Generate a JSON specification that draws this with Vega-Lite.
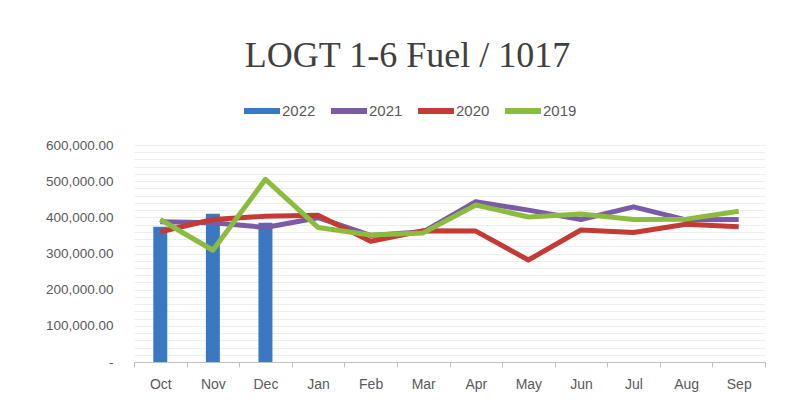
{
  "$schema": "https://vega.github.io/schema/vega-lite/v6.json",
  "width": 631,
  "height": 217,
  "autosize": {"type": "none"},
  "padding": {"left": 134, "top": 145, "right": 20, "bottom": 44},
  "background": "white",
  "title": {
    "text": "LOGT 1-6 Fuel / 1017",
    "font": "Liberation Serif",
    "fontSize": 36,
    "fontWeight": "normal",
    "color": "#404040",
    "anchor": "middle",
    "frame": "group",
    "dx": -42,
    "offset": 18
  },
  "config": {"view": {"stroke": null}, "font": "Liberation Sans"},
  "data": {
    "values": [
      {"m": "Oct", "y": "2022", "v": 374000},
      {"m": "Nov", "y": "2022", "v": 410000},
      {"m": "Dec", "y": "2022", "v": 385000},
      {"m": "Oct", "y": "2021", "v": 388000},
      {"m": "Nov", "y": "2021", "v": 385000},
      {"m": "Dec", "y": "2021", "v": 372000},
      {"m": "Jan", "y": "2021", "v": 399000},
      {"m": "Feb", "y": "2021", "v": 350000},
      {"m": "Mar", "y": "2021", "v": 360000},
      {"m": "Apr", "y": "2021", "v": 443000},
      {"m": "May", "y": "2021", "v": 420000},
      {"m": "Jun", "y": "2021", "v": 394000},
      {"m": "Jul", "y": "2021", "v": 429000},
      {"m": "Aug", "y": "2021", "v": 393000},
      {"m": "Sep", "y": "2021", "v": 394000},
      {"m": "Oct", "y": "2020", "v": 360000},
      {"m": "Nov", "y": "2020", "v": 394000},
      {"m": "Dec", "y": "2020", "v": 403000},
      {"m": "Jan", "y": "2020", "v": 406000},
      {"m": "Feb", "y": "2020", "v": 334000},
      {"m": "Mar", "y": "2020", "v": 363000},
      {"m": "Apr", "y": "2020", "v": 362000},
      {"m": "May", "y": "2020", "v": 282000},
      {"m": "Jun", "y": "2020", "v": 365000},
      {"m": "Jul", "y": "2020", "v": 358000},
      {"m": "Aug", "y": "2020", "v": 381000},
      {"m": "Sep", "y": "2020", "v": 374000},
      {"m": "Oct", "y": "2019", "v": 394000},
      {"m": "Nov", "y": "2019", "v": 309000},
      {"m": "Dec", "y": "2019", "v": 505000},
      {"m": "Jan", "y": "2019", "v": 372000},
      {"m": "Feb", "y": "2019", "v": 351000},
      {"m": "Mar", "y": "2019", "v": 357000},
      {"m": "Apr", "y": "2019", "v": 434000},
      {"m": "May", "y": "2019", "v": 401000},
      {"m": "Jun", "y": "2019", "v": 409000},
      {"m": "Jul", "y": "2019", "v": 394000},
      {"m": "Aug", "y": "2019", "v": 395000},
      {"m": "Sep", "y": "2019", "v": 417000}
    ]
  },
  "encoding": {
    "x": {
      "field": "m",
      "type": "ordinal",
      "sort": ["Oct", "Nov", "Dec", "Jan", "Feb", "Mar", "Apr", "May", "Jun", "Jul", "Aug", "Sep"],
      "scale": {"paddingInner": 0, "paddingOuter": 0},
      "axis": {
        "title": null,
        "labelAngle": 0,
        "labelFontSize": 14,
        "labelColor": "#595959",
        "labelPadding": 10,
        "domainColor": "#bfbfbf",
        "tickColor": "#bfbfbf",
        "tickSize": 5,
        "tickBand": "extent",
        "grid": false
      }
    }
  },
  "layer": [
    {
      "transform": [{"filter": "datum.y == '2022'"}],
      "mark": {"type": "bar", "size": 14},
      "encoding": {
        "y": {
          "field": "v",
          "type": "quantitative",
          "scale": {"domain": [0, 600000], "nice": false},
          "axis": {
            "orient": "left",
            "title": null,
            "values": [0, 20000, 40000, 60000, 80000, 100000, 120000, 140000, 160000, 180000, 200000, 220000, 240000, 260000, 280000, 300000, 320000, 340000, 360000, 380000, 400000, 420000, 440000, 460000, 480000, 500000, 520000, 540000, 560000, 580000, 600000],
            "labels": false,
            "ticks": false,
            "domain": false,
            "gridColor": "#efefef",
            "gridWidth": 1
          }
        },
        "color": {
          "field": "y",
          "type": "nominal",
          "scale": {
            "domain": ["2022", "2021", "2020", "2019"],
            "range": ["#3b78c2", "#7b5aa6", "#c43b35", "#8cbc3f"]
          },
          "legend": {
            "title": null,
            "orient": "none",
            "legendX": 110,
            "legendY": -52,
            "direction": "horizontal",
            "symbolType": "M-1,-0.17L1,-0.17L1,0.17L-1,0.17Z",
            "symbolSize": 1296,
            "symbolStrokeWidth": 0,
            "labelFontSize": 15,
            "labelColor": "#595959",
            "labelOffset": 2,
            "columnPadding": 15,
            "padding": 0,
            "encode": {
              "symbols": {
                "update": {
                  "shape": {"value": "M-1,-0.17L1,-0.17L1,0.17L-1,0.17Z"},
                  "size": {"value": 1296},
                  "fill": {"scale": "color", "field": "value"},
                  "stroke": {"value": "transparent"},
                  "strokeWidth": {"value": 0},
                  "opacity": {"value": 1}
                }
              }
            }
          }
        }
      }
    },
    {
      "transform": [{"filter": "datum.y != '2022'"}],
      "mark": {"type": "line", "strokeWidth": 5, "strokeJoin": "round"},
      "encoding": {
        "y": {
          "field": "v",
          "type": "quantitative",
          "scale": {"domain": [0, 600000], "nice": false},
          "axis": {
            "orient": "left",
            "title": null,
            "values": [0, 100000, 200000, 300000, 400000, 500000, 600000],
            "labelExpr": "datum.value == 0 ? '-' : format(datum.value, ',.2f')",
            "labelFontSize": 13.5,
            "labelColor": "#595959",
            "labelPadding": 21,
            "ticks": false,
            "domain": false,
            "gridColor": "#d9d9d9",
            "gridWidth": 1,
            "encode": {
              "labels": {
                "update": {
                  "dx": {"signal": "datum.value == 0 ? -6 : 0"}
                }
              }
            }
          }
        },
        "color": {
          "field": "y",
          "type": "nominal",
          "legend": {
            "title": null,
            "orient": "none",
            "legendX": 110,
            "legendY": -52,
            "direction": "horizontal",
            "symbolType": "M-1,-0.17L1,-0.17L1,0.17L-1,0.17Z",
            "symbolSize": 1296,
            "symbolStrokeWidth": 0,
            "labelFontSize": 15,
            "labelColor": "#595959",
            "labelOffset": 2,
            "columnPadding": 15,
            "padding": 0,
            "encode": {
              "symbols": {
                "update": {
                  "shape": {"value": "M-1,-0.17L1,-0.17L1,0.17L-1,0.17Z"},
                  "size": {"value": 1296},
                  "fill": {"scale": "color", "field": "value"},
                  "stroke": {"value": "transparent"},
                  "strokeWidth": {"value": 0},
                  "opacity": {"value": 1}
                }
              }
            }
          }
        }
      }
    }
  ],
  "resolve": {"axis": {"y": "independent"}}
}
